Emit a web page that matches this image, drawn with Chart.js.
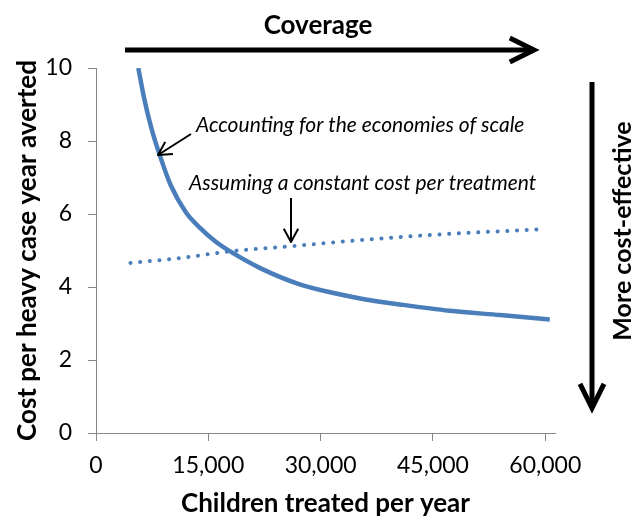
<!DOCTYPE html>
<html lang="en">
<head>
    <meta charset="UTF-8">
    <title>Cost per heavy case year averted</title>
    <script src="https://cdn.jsdelivr.net/npm/chart.js"></script>
    <style>
        html, body { margin: 0; padding: 0; background: #fff; }
        #wrap { width: 636px; height: 519px; }
    </style>
</head>
<body>
    <div id="wrap"><canvas id="costChart" width="636" height="519"></canvas></div>

    <script>
        // values
        const scaleX = [5650, 6400, 7400, 8500, 10000, 12000, 14000, 16000, 18200, 22000, 27100, 32500, 36000, 41000, 47200, 54000, 60600];
        const scaleY = [10.0, 9.2, 8.35, 7.62, 6.78, 6.05, 5.60, 5.24, 4.94, 4.51, 4.08, 3.80, 3.66, 3.51, 3.35, 3.23, 3.11];
        const constX = [4600, 11100, 18000, 26200, 35000, 45000, 59300];
        const constY = [4.66, 4.79, 4.98, 5.12, 5.28, 5.43, 5.58];
        const xTicks = [0, 15000, 30000, 45000, 60000];
        const yTicks = [0, 2, 4, 6, 8, 10];

        const blue = "#4a7ebb";
        const axisGray = "#868686";
        const fontFam = "Lato, 'Open Sans', sans-serif";

        function pairs(xs, ys) {
            return xs.map((x, i) => ({ x: x, y: ys[i] }));
        }

        function arrowHead(ctx, tipX, tipY, angle, len, spread) {
            ctx.beginPath();
            ctx.moveTo(tipX - len * Math.cos(angle - spread), tipY - len * Math.sin(angle - spread));
            ctx.lineTo(tipX, tipY);
            ctx.lineTo(tipX - len * Math.cos(angle + spread), tipY - len * Math.sin(angle + spread));
            ctx.stroke();
        }

        function arrow(ctx, x1, y1, x2, y2, width, len, spread) {
            ctx.lineWidth = width;
            ctx.beginPath();
            ctx.moveTo(x1, y1);
            ctx.lineTo(x2, y2);
            ctx.stroke();
            arrowHead(ctx, x2, y2, Math.atan2(y2 - y1, x2 - x1), len, spread);
        }

        const notes = {
            id: "notes",
            afterDraw(chart) {
                const ctx = chart.ctx;
                ctx.save();
                ctx.strokeStyle = "#000";
                ctx.fillStyle = "#000";
                ctx.lineCap = "butt";
                ctx.lineJoin = "miter";

                // coverage arrow
                arrow(ctx, 125, 50, 534, 50, 5, 27, 0.46);
                ctx.font = "bold 26px " + fontFam;
                ctx.textAlign = "center";
                ctx.textBaseline = "middle";
                ctx.fillText("Coverage", 318, 26);

                // cost-effective arrow
                arrow(ctx, 592, 82, 592, 408, 5, 27, 0.46);
                ctx.font = "bold 25px " + fontFam;
                ctx.save();
                ctx.translate(623, 231);
                ctx.rotate(-Math.PI / 2);
                ctx.fillText("More cost-effective", 0, 0);
                ctx.restore();

                // curve labels
                ctx.font = "italic 21px " + fontFam;
                ctx.textAlign = "left";
                ctx.fillText("Accounting for the economies of scale", 196, 125);
                ctx.fillText("Assuming a constant cost per treatment", 189, 183);

                ctx.lineJoin = "round";
                arrow(ctx, 191, 134, 158, 155, 2, 15, 0.5);
                arrow(ctx, 291, 198, 291, 242, 2, 15, 0.5);
                ctx.restore();
            }
        };

        new Chart(document.getElementById("costChart"), {
            type: "scatter",
            data: {
                datasets: [
                    {
                        label: "Accounting for the economies of scale",
                        data: pairs(scaleX, scaleY),
                        showLine: true,
                        borderColor: blue,
                        borderWidth: 4.5,
                        cubicInterpolationMode: "monotone",
                        pointRadius: 0
                    },
                    {
                        label: "Assuming a constant cost per treatment",
                        data: pairs(constX, constY),
                        showLine: true,
                        borderColor: blue,
                        borderWidth: 4,
                        borderDash: [0.1, 9.6],
                        borderCapStyle: "round",
                        cubicInterpolationMode: "monotone",
                        pointRadius: 0
                    }
                ]
            },
            options: {
                responsive: false,
                animation: false,
                layout: { padding: { left: 0, right: 81, top: 68, bottom: 0 } },
                plugins: {
                    legend: { display: false },
                    tooltip: { enabled: false }
                },
                scales: {
                    x: {
                        type: "linear",
                        min: 0,
                        max: 61300,
                        afterFit(s) { s.height = 86; },
                        afterBuildTicks(s) { s.ticks = xTicks.map(v => ({ value: v })); },
                        grid: { drawOnChartArea: false, color: axisGray, tickLength: 8 },
                        border: { color: axisGray, width: 1 },
                        ticks: {
                            color: "#000",
                            padding: 11,
                            maxRotation: 0,
                            font: { family: fontFam, size: 23 },
                            callback: v => v.toLocaleString("en-US")
                        },
                        title: {
                            display: true,
                            text: "Children treated per year",
                            color: "#000",
                            padding: { bottom: 0 },
                            font: { family: fontFam, size: 26, weight: "bold" }
                        }
                    },
                    y: {
                        min: 0,
                        max: 10,
                        afterFit(s) { s.width = 96; },
                        afterBuildTicks(s) { s.ticks = yTicks.map(v => ({ value: v })); },
                        grid: { drawOnChartArea: false, color: axisGray, tickLength: 8 },
                        border: { color: axisGray, width: 1 },
                        ticks: {
                            color: "#000",
                            padding: 16,
                            font: { family: fontFam, size: 23 }
                        },
                        title: {
                            display: true,
                            text: "Cost per heavy case year averted",
                            color: "#000",
                            padding: { top: 12 },
                            font: { family: fontFam, size: 26, weight: "bold" }
                        }
                    }
                }
            },
            plugins: [notes]
        });
    </script>
</body>
</html>
